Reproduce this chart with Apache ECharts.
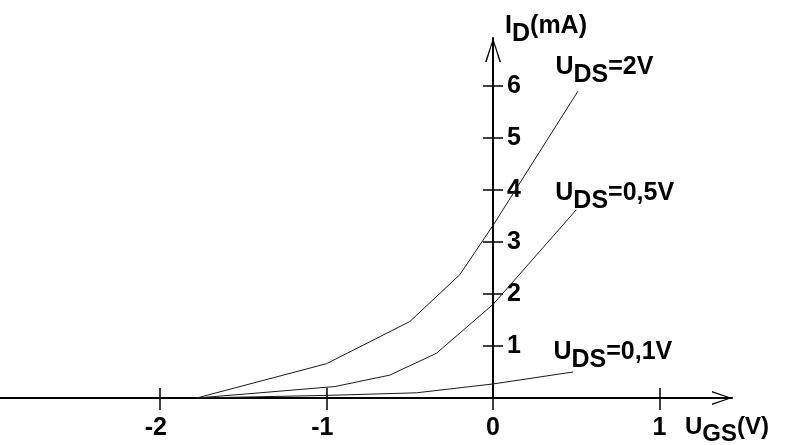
<!DOCTYPE html>
<html><head><meta charset="utf-8">
<script src="https://cdn.jsdelivr.net/npm/echarts@6/dist/echarts.min.js"></script>
<style>html,body{margin:0;padding:0;background:#fff}#c{width:785px;height:445px}</style>
</head><body><div id="c"></div>
<script>
// tick labels
const xTicks = [-2, -1, 0, 1];
const yTicks = [1, 2, 3, 4, 5, 6];
// series: U_GS (V) and I_D (mA)
const ugs2V  = [-1.78, -1.0, -0.5, -0.2, 0, 0.51];
const id2V   = [0, 0.66, 1.47, 2.37, 3.32, 5.9];
const ugs05V = [-1.78, -1.4, -0.95, -0.62, -0.34, 0, 0.5];
const id05V  = [0, 0.1, 0.22, 0.44, 0.86, 1.8, 3.62];
const ugs01V = [-1.78, -1.0, -0.46, 0, 0.48];
const id01V  = [0, 0.05, 0.1, 0.27, 0.5];
// label texts
const seriesLabels = [['U', 'DS', '=2V'], ['U', 'DS', '=0,5V'], ['U', 'DS', '=0,1V']];
const yTitle = ['I', 'D', '(mA)'];
const xTitle = ['U', 'GS', '(V)'];

const FF = '"Liberation Sans", Arial, sans-serif';
const X_MIN = -2.961, X_MAX = 1.435, Y_MIN = 0, Y_MAX = 6.923;
const GRID = {left: 0, right: 53, top: 38, bottom: 47};
const W = 785;
const arrowY = 'path://M8,0 L16,24 L14.4,24 L8,3.2 L1.6,24 L0,24 Z';
const arrowX = 'path://M7,0 L14,20 L12.6,20 L7,3 L1.4,20 L0,20 Z';

function zip(a, b) { return a.map((v, i) => [v, b[i]]); }

// y axis sits at x = 0 of the value scale
const gridW = W - GRID.left - GRID.right;
const yAxisOffset = -(gridW * (0 - X_MIN) / (X_MAX - X_MIN));

const chart = echarts.init(document.getElementById('c'), null, {renderer: 'canvas'});
const lineSeries = (name, data) => ({
  name, type: 'line', data, xAxisIndex: 0, yAxisIndex: 0,
  showSymbol: false, symbol: 'none', smooth: false, silent: true,
  lineStyle: {color: '#1a1a1a', width: 1}, z: 3
});

const labelFont = {fontSize: 25, fontWeight: 'bold', fontFamily: FF, color: '#000'};

chart.setOption({
  animation: false,
  backgroundColor: '#fff',
  grid: Object.assign({containLabel: false}, GRID),
  xAxis: [{
    type: 'value', min: X_MIN, max: X_MAX, position: 'bottom',
    axisLine: {show: true, onZero: false, lineStyle: {color: '#000', width: 2},
      symbol: ['none', arrowX], symbolSize: [14, 20], symbolOffset: [0, -10]},
    axisTick: {show: true, length: 12, customValues: xTicks, lineStyle: {color: '#000', width: 1.5}},
    axisLabel: {show: true, customValues: xTicks, margin: 18,
      formatter: v => v < 0 ? '{n|' + v + '}{h|-}' : '{n|' + v + '}',
      rich: {n: labelFont, h: Object.assign({}, labelFont, {color: 'rgba(0,0,0,0)'})}},
    splitLine: {show: false}
  }, {
    type: 'value', min: X_MIN, max: X_MAX, position: 'bottom',
    axisLine: {show: false, onZero: false},
    axisTick: {show: true, inside: true, length: 10, customValues: xTicks, lineStyle: {color: '#000', width: 1.5}},
    axisLabel: {show: false}, splitLine: {show: false}
  }],
  yAxis: [{
    type: 'value', min: Y_MIN, max: Y_MAX, position: 'left', offset: yAxisOffset,
    axisLine: {show: true, onZero: false, lineStyle: {color: '#000', width: 2},
      symbol: ['none', arrowY], symbolSize: [16, 24], symbolOffset: [0, -12]},
    axisTick: {show: true, length: 10, customValues: yTicks, lineStyle: {color: '#000', width: 1.5}},
    axisLabel: Object.assign({show: true, inside: true, margin: 14, customValues: yTicks}, labelFont),
    splitLine: {show: false}
  }, {
    type: 'value', min: Y_MIN, max: Y_MAX, position: 'left', offset: yAxisOffset,
    axisLine: {show: false, onZero: false},
    axisTick: {show: true, inside: true, length: 10, customValues: yTicks, lineStyle: {color: '#000', width: 1.5}},
    axisLabel: {show: false}, splitLine: {show: false}
  }],
  series: [
    lineSeries('U_DS=2V', zip(ugs2V, id2V)),
    lineSeries('U_DS=0,5V', zip(ugs05V, id05V)),
    lineSeries('U_DS=0,1V', zip(ugs01V, id01V))
  ]
});

const mctx = document.createElement('canvas').getContext('2d');
function textW(t, fs) { mctx.font = 'bold ' + fs + 'px ' + FF; return mctx.measureText(t).width; }
function subLabel(parts, x, y, fs, shift) {
  const w0 = textW(parts[0], fs), w1 = textW(parts[1], fs);
  const st = (t) => ({text: t, fontSize: fs, fontWeight: 'bold', fontFamily: FF, fill: '#000',
    align: 'left', verticalAlign: 'middle'});
  return [
    {type: 'text', x: x, y: y, z: 10, silent: true, style: st(parts[0])},
    {type: 'text', x: x + w0, y: y + shift, z: 10, silent: true, style: st(parts[1])},
    {type: 'text', x: x + w0 + w1, y: y, z: 10, silent: true, style: st(parts[2])}
  ];
}
function px(p) { return chart.convertToPixel({gridIndex: 0}, p); }
const ends = [
  [ugs2V[ugs2V.length - 1], id2V[id2V.length - 1]],
  [ugs05V[ugs05V.length - 1], id05V[id05V.length - 1]],
  [ugs01V[ugs01V.length - 1], id01V[id01V.length - 1]]
];
const offs = [[-22.5, -24.5], [-21, -16.7], [-19.5, -19.5]];
let graphics = [];
ends.forEach((e, i) => {
  const p = px(e);
  graphics = graphics.concat(subLabel(seriesLabels[i], p[0] + offs[i][0], p[1] + offs[i][1], 25, 8));
});
const yEnd = px([0, Y_MAX]);
graphics = graphics.concat(subLabel(yTitle, yEnd[0] + 12, yEnd[1] - 11.5, 25, 8));
const xEnd = px([X_MAX, 0]);
graphics = graphics.concat(subLabel(xTitle, xEnd[0] - 47, xEnd[1] + 29.5, 24, 7));
chart.setOption({graphic: graphics});
</script>
</body></html>
